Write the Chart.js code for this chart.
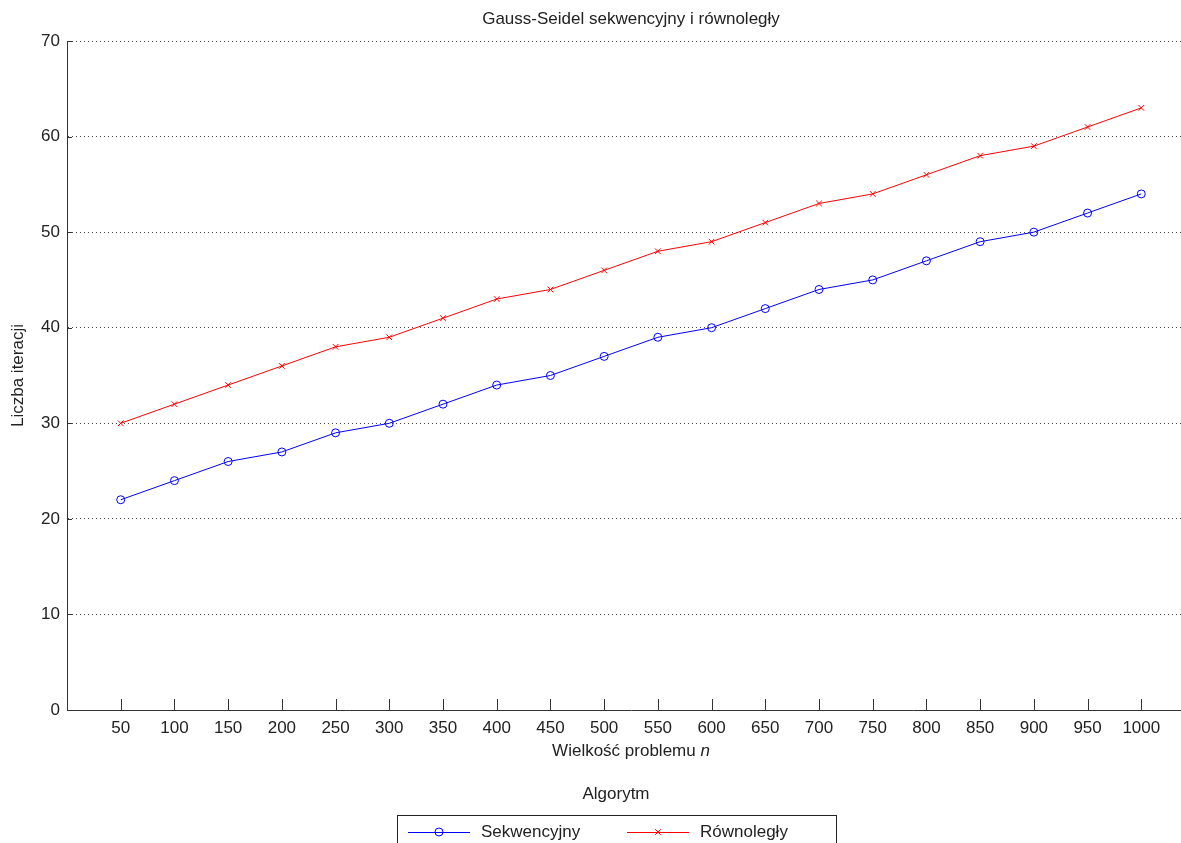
<!DOCTYPE html>
<html lang="pl">
<head>
<meta charset="UTF-8">
<title>Gauss-Seidel sekwencyjny i równoległy</title>
<script src="https://cdn.jsdelivr.net/npm/chart.js"></script>
<style>
    html, body { margin: 0; padding: 0; background: #fff; overflow: hidden; }
    #wrap { width: 1220px; height: 843px; }
</style>
</head>
<body>
<div id="wrap"><canvas id="chart" width="1220" height="843"></canvas></div>
<script>
// rozmiar problemu n
const sizes = [50, 100, 150, 200, 250, 300, 350, 400, 450, 500, 550, 600, 650, 700, 750, 800, 850, 900, 950, 1000];
// liczba iteracji
const sequential = [22, 24, 26, 27, 29, 30, 32, 34, 35, 37, 39, 40, 42, 44, 45, 47, 49, 50, 52, 54];
const parallel = [30, 32, 34, 36, 38, 39, 41, 43, 44, 46, 48, 49, 51, 53, 54, 56, 58, 59, 61, 63];
const yTicks = [0, 10, 20, 30, 40, 50, 60, 70];

const FONT = '"Liberation Sans", Arial, sans-serif';
const AXIS = '#333333';

// male kreski podzialki do srodka + podpis osi x + legenda w ramce
const extras = {
    id: 'extras',
    afterDraw(chart) {
        const ctx = chart.ctx;
        const x = chart.scales.x, y = chart.scales.y;
        const area = chart.chartArea;
        ctx.save();
        ctx.strokeStyle = AXIS;
        ctx.lineWidth = 1;
        ctx.beginPath();
        sizes.forEach(v => {
            const px = Math.round(x.getPixelForValue(v)) + 0.5;
            ctx.moveTo(px, area.bottom);
            ctx.lineTo(px, area.bottom - 11);
        });
        yTicks.forEach(v => {
            const py = Math.round(y.getPixelForValue(v)) + 0.5;
            ctx.moveTo(area.left, py);
            ctx.lineTo(area.left + 5, py);
        });
        ctx.stroke();

        // Wielkość problemu n (n kursywą)
        ctx.fillStyle = '#222';
        ctx.textBaseline = 'middle';
        const normal = '17px ' + FONT, italic = 'italic 17px ' + FONT;
        const part1 = 'Wielkość problemu ', part2 = 'n';
        ctx.font = normal;
        const w1 = ctx.measureText(part1).width;
        ctx.font = italic;
        const w2 = ctx.measureText(part2).width;
        let tx = (area.left + area.right) / 2 - (w1 + w2) / 2;
        ctx.textAlign = 'left';
        ctx.font = normal;
        ctx.fillText(part1, tx, 751);
        ctx.font = italic;
        ctx.fillText(part2, tx + w1, 751);

        // legenda
        const cx = 616;
        ctx.font = normal;
        ctx.textAlign = 'center';
        ctx.fillText('Algorytm', cx, 794);
        ctx.strokeStyle = '#222';
        ctx.strokeRect(397.5, 815.5, 439, 40);
        const items = [
            { ds: chart.data.datasets[0], x0: 408 },
            { ds: chart.data.datasets[1], x0: 627 }
        ];
        const ly = 832;
        items.forEach(it => {
            ctx.strokeStyle = it.ds.borderColor;
            ctx.fillStyle = 'rgba(0,0,0,0)';
            ctx.beginPath();
            ctx.moveTo(it.x0, ly + 0.5);
            ctx.lineTo(it.x0 + 62, ly + 0.5);
            ctx.stroke();
            Chart.helpers.drawPoint(ctx, {
                pointStyle: it.ds.pointStyle,
                radius: it.ds.pointRadius,
                borderWidth: 1,
                rotation: 0
            }, it.x0 + 31, ly);
            ctx.fillStyle = '#222';
            ctx.textAlign = 'left';
            ctx.fillText(it.ds.label, it.x0 + 73, ly);
        });
        ctx.restore();
    }
};

new Chart(document.getElementById('chart'), {
    type: 'line',
    data: {
        datasets: [{
            label: 'Sekwencyjny',
            data: sizes.map((n, i) => ({ x: n, y: sequential[i] })),
            borderColor: '#0000ff',
            backgroundColor: 'rgba(0,0,0,0)',
            borderWidth: 1,
            pointStyle: 'circle',
            pointRadius: 4,
            pointBorderWidth: 1,
            pointBackgroundColor: 'rgba(0,0,0,0)',
            tension: 0
        }, {
            label: 'Równoległy',
            data: sizes.map((n, i) => ({ x: n, y: parallel[i] })),
            borderColor: '#ff0000',
            backgroundColor: 'rgba(0,0,0,0)',
            borderWidth: 1,
            pointStyle: 'crossRot',
            pointRadius: 4,
            pointBorderWidth: 1,
            tension: 0
        }]
    },
    options: {
        responsive: false,
        animation: false,
        layout: { padding: { left: 0, right: 25, top: 0, bottom: 0 } },
        plugins: {
            legend: { display: false },
            tooltip: { enabled: false },
            title: {
                display: true,
                text: 'Gauss-Seidel sekwencyjny i równoległy',
                color: '#222',
                fullSize: false,
                font: { family: FONT, size: 17, weight: 'normal' },
                padding: { top: 9, bottom: 11.6 }
            }
        },
        scales: {
            x: {
                type: 'linear',
                min: 0,
                max: 1050,
                afterBuildTicks: s => { s.ticks = sizes.map(v => ({ value: v })); },
                afterFit: s => { s.height = 133; },
                grid: { display: false, drawTicks: false },
                border: { display: true, color: AXIS, width: 1 },
                ticks: {
                    autoSkip: false,
                    maxRotation: 0,
                    padding: 8,
                    color: '#222',
                    font: { family: FONT, size: 17 },
                    callback: v => String(v)
                }
            },
            y: {
                min: 0,
                max: 70,
                afterBuildTicks: s => { s.ticks = yTicks.map(v => ({ value: v })); },
                afterFit: s => { s.width = 67; },
                grid: {
                    drawTicks: false,
                    color: '#444',
                    lineWidth: 1
                },
                border: { display: true, color: AXIS, width: 1, dash: [1, 3] },
                ticks: {
                    padding: 7,
                    color: '#222',
                    font: { family: FONT, size: 17 }
                },
                title: {
                    display: true,
                    text: 'Liczba iteracji',
                    color: '#222',
                    font: { family: FONT, size: 17 },
                    padding: { top: 8, bottom: 0 }
                }
            }
        }
    },
    plugins: [extras]
});
</script>
</body>
</html>
